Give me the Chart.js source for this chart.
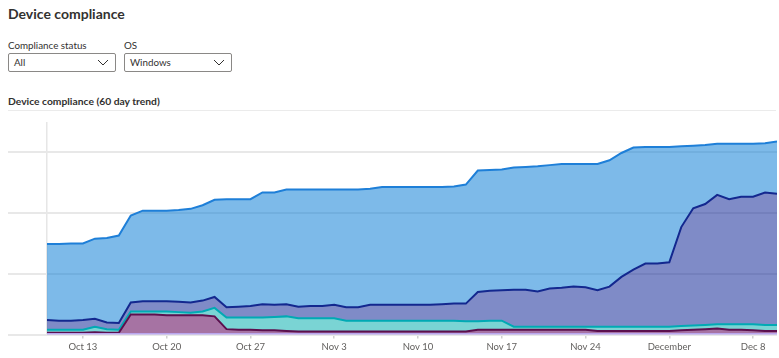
<!DOCTYPE html>
<html>
<head>
<meta charset="utf-8">
<title>Device compliance</title>
<script src="https://cdn.jsdelivr.net/npm/chart.js@4.4.1/dist/chart.umd.min.js"></script>
<style>
body{margin:0;background:#fff;font-family:"Segoe UI",Lato,"Open Sans",sans-serif;color:#323130;}
#page{position:relative;width:779px;height:358px;overflow:hidden;}
h1{position:absolute;left:8px;top:5px;margin:0;font-size:14px;font-weight:700;}
.lbl{position:absolute;top:39px;font-size:9.8px;}
.drop{position:absolute;top:53px;width:106px;height:17px;border:1px solid #8a8886;border-radius:2px;font-size:9.8px;line-height:17px;box-sizing:content-box;}
.drop span{position:absolute;left:5px;}
.drop svg{position:absolute;right:6px;top:5px;}
h2{position:absolute;left:8px;top:95px;margin:0;font-size:10.3px;font-weight:700;}
#sep{position:absolute;left:8px;top:110px;width:768px;height:1px;background:#ebebeb;}
#chart{position:absolute;left:0;top:112px;}
</style>
</head>
<body>
<div id="page">
	<h1>Device compliance</h1>
	<div class="lbl" style="left:8px">Compliance status</div>
	<div class="drop" style="left:8px"><span>All</span><svg width="12" height="7"><polyline points="1,1 6,6 11,1" fill="none" stroke="#323130" stroke-width="1"/></svg></div>
	<div class="lbl" style="left:124px">OS</div>
	<div class="drop" style="left:124px"><span>Windows</span><svg width="12" height="7"><polyline points="1,1 6,6 11,1" fill="none" stroke="#323130" stroke-width="1"/></svg></div>
	<h2>Device compliance (60 day trend)</h2>
	<div id="sep"></div>
	<canvas id="chart" width="779" height="246"></canvas>
</div>
<script>
// days shown on the x axis (Oct 10 - Dec 10)
var dates = ['Oct 10','Oct 11','Oct 12','Oct 13','Oct 14','Oct 15','Oct 16','Oct 17','Oct 18','Oct 19','Oct 20',
	'Oct 21','Oct 22','Oct 23','Oct 24','Oct 25','Oct 26','Oct 27','Oct 28','Oct 29','Oct 30','Oct 31',
	'Nov 1','Nov 2','Nov 3','Nov 4','Nov 5','Nov 6','Nov 7','Nov 8','Nov 9','Nov 10','Nov 11','Nov 12','Nov 13',
	'Nov 14','Nov 15','Nov 16','Nov 17','Nov 18','Nov 19','Nov 20','Nov 21','Nov 22','Nov 23','Nov 24','Nov 25',
	'Nov 26','Nov 27','Nov 28','Nov 29','Nov 30','Dec 1','Dec 2','Dec 3','Dec 4','Dec 5','Dec 6','Dec 7','Dec 8',
	'Dec 9','Dec 10'];

var tickDates  = ['Oct 13','Oct 20','Oct 27','Nov 3','Nov 10','Nov 17','Nov 24','Dec 1','Dec 8'];
var tickLabels = ['Oct 13','Oct 20','Oct 27','Nov 3','Nov 10','Nov 17','Nov 24','December','Dec 8'];

// running totals (each line is the top of its band)
var lineTotal = [149,149,150,150,158,159,163,196,204,204,204,205,207,213,222,223,223,223,234,234,239,
	239,239,239,239,239,239,240,243,243,243,243,243,243,244,247,270,271,272,275,276,277,279,281,281,
	281,281,287,299,308,309,309,309,310,311,312,314,314,314,314,315,318];
var lineNonCompliant = [24,23,23,24,26,20,19,53,55,55,55,54,53,56,62,45,46,47,50,49,50,
	46,47,47,49,45,45,49,49,49,49,49,49,50,51,51,70,72,73,74,74,71,76,77,79,
	78,73,79,95,107,117,117,119,177,208,215,230,223,227,227,234,232];
var lineGrace = [8,8,8,8,13,9,8,38,38,38,38,37,36,38,44,28,28,28,28,29,30,
	27,27,27,27,23,23,23,23,23,23,23,23,23,23,22,22,23,23,13,13,13,13,13,13,
	13,13,13,13,13,13,13,13,14,15,16,17,17,17,17,16,16];
var lineError = [3,3,3,3,4,3,3,33,33,33,32,32,32,32,30,9,8,8,7,7,6,
	5,5,5,5,5,5,5,5,5,5,5,5,5,5,5,8,8,8,8,8,8,8,8,8,
	8,6,6,6,6,6,6,6,7,8,9,10,8,8,7,6,6];
var lineUnknown = [1,1,1,1,1,1,1,1,1,1,1,1,1,1,1,1,1,1,1,1,1,
	1,1,1,1,1,1,1,1,1,1,1,1,1,1,1,1,1,1,1,1,1,1,1,1,
	1,1,1,1,1,1,1,1,1,1,1,1,1,1,1,1,1];

var dayIndex = dates.map(function(d, i){ return i; });

function band(label, values, line, fill, target){
	return {
		label: label,
		data: values,
		borderColor: line,
		backgroundColor: fill,
		borderWidth: 2,
		pointRadius: 0,
		tension: 0,
		fill: target
	};
}

var ctx = document.getElementById('chart').getContext('2d');
var myChart = new Chart(ctx, {
	type: 'line',
	data: {
		labels: dayIndex,
		datasets: [
			band('Unknown', lineUnknown, '#b9a6ee', 'rgba(92,45,145,0.35)', 'origin'),
			band('Error', lineError, '#5c0f4e', 'rgba(92,0,88,0.55)', 0),
			band('In grace period', lineGrace, '#00aab4', 'rgba(0,172,172,0.52)', 1),
			band('Not compliant', lineNonCompliant, '#13288f', 'rgba(0,24,143,0.5)', 2),
			band('Compliant', lineTotal, '#1e7fd8', 'rgba(0,120,212,0.51)', 3)
		]
	},
	options: {
		responsive: false,
		animation: false,
		layout: { padding: { left: 8, right: 2, top: 10, bottom: 2 } },
		plugins: { legend: { display: false }, tooltip: { enabled: false } },
		scales: {
			x: {
				type: 'linear',
				min: -3.26,
				max: 61,
				afterBuildTicks: function(axis){
					var t = [{ value: 0 }];
					tickDates.forEach(function(d){ t.push({ value: dates.indexOf(d) }); });
					axis.ticks = t;
				},
				border: { display: false },
				grid: {
					color: function(c){ return c.tick && c.tick.value === 0 ? '#e6e6e6' : 'transparent'; },
					tickColor: function(c){ return c.tick && c.tick.value === 0 ? 'transparent' : '#d0d0d0'; },
					lineWidth: 1.5,
					tickLength: 4
				},
				ticks: {
					autoSkip: false,
					maxRotation: 0,
					padding: 3,
					color: '#605e5c',
					font: { family: '"Segoe UI", Lato, sans-serif', size: 9.5 },
					callback: function(v){
						var i = tickDates.indexOf(dates[v]);
						return v === 0 || i < 0 ? '' : tickLabels[i];
					}
				}
			},
			y: {
				min: 0,
				max: 350,
				border: { display: false },
				grid: {
					drawTicks: false,
					lineWidth: 2,
					color: function(c){ return c.tick && c.tick.value > 300 ? 'transparent' : '#e8e8e8'; }
				},
				ticks: { display: false, stepSize: 100 }
			}
		}
	}
});
</script>
</body>
</html>
